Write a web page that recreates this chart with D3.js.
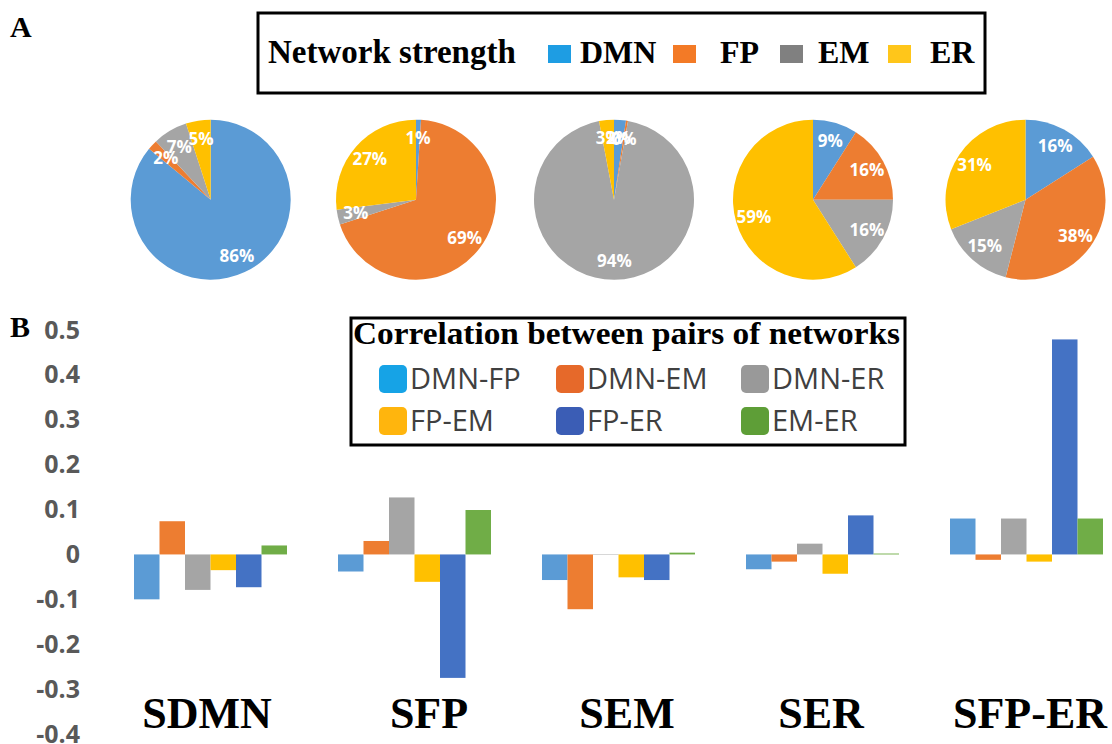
<!DOCTYPE html>
<html>
<head>
<meta charset="utf-8">
<script src="https://cdn.jsdelivr.net/npm/d3@7/dist/d3.min.js"></script>
<style>
  body { margin: 0; background: #fff; }
  svg { display: block; }
</style>
</head>
<body>
<svg id="fig" width="1112" height="744"></svg>
<script>
// ---- data ----
const groups = ["SDMN", "SFP", "SEM", "SER", "SFP-ER"];
const networks = ["DMN", "FP", "EM", "ER"];
const pairs = ["DMN-FP", "DMN-EM", "DMN-ER", "FP-EM", "FP-ER", "EM-ER"];

// network strength shares (%) per condition, order DMN, FP, EM, ER
const strengthSDMN  = [86, 2, 7, 5];
const strengthSFP   = [1, 69, 3, 27];
const strengthSEM   = [2.4, 0.4, 94.2, 3.0];
const strengthSER   = [9, 16, 16, 59];
const strengthSFPER = [16, 38, 15, 31];

// correlation between pairs of networks, order as in `pairs`
const corrSDMN  = [-0.100, 0.074, -0.079, -0.035, -0.073, 0.020];
const corrSFP   = [-0.038, 0.030, 0.127, -0.061, -0.275, 0.099];
const corrSEM   = [-0.057, -0.122, 0.001, -0.051, -0.057, 0.004];
const corrSER   = [-0.033, -0.016, 0.024, -0.043, 0.087, 0.002];
const corrSFPER = [0.080, -0.012, 0.080, -0.016, 0.479, 0.080];

const yTicks = [0.5, 0.4, 0.3, 0.2, 0.1, 0, -0.1, -0.2, -0.3, -0.4];

// ---- colours ----
const pieColors   = ["#5B9BD5", "#ED7D31", "#A5A5A5", "#FFC000"];
const keyAColors  = ["#1E9DE3", "#F37A26", "#808080", "#FFC61A"];
const barColors   = ["#5B9BD5", "#ED7D31", "#A5A5A5", "#FFC000", "#4472C4", "#70AD47"];
const keyBColors  = ["#16A3E6", "#E6692A", "#999999", "#FFB50D", "#3B5DB5", "#5E9E37"];

const strengths = [strengthSDMN, strengthSFP, strengthSEM, strengthSER, strengthSFPER];
const corrs = [corrSDMN, corrSFP, corrSEM, corrSER, corrSFPER];

const serif = "'Liberation Serif', 'Times New Roman', serif";
const sans = "'Open Sans', 'Noto Sans', sans-serif";

const svg = d3.select("#fig");

// ---- scales ----
const x0 = d3.scaleBand().domain(groups).range([108.5, 1128.5]).padding(0);
const x1 = d3.scaleBand().domain(pairs).range([0, x0.bandwidth()]).paddingInner(0).paddingOuter(1);
const y = d3.scaleLinear().domain([-0.4, 0.5]).range([734, 330]);
// pie row and condition captions are laid out independently of the bar groups
const pieX = d3.scaleOrdinal().domain(groups).range([210.7, 416, 614, 813, 1025.5]);
const captionX = d3.scaleOrdinal().domain(groups).range([207, 429, 627, 821, 1030]);

// ---- panel labels ----
svg.append("text").attr("x", 10).attr("y", 37).text("A")
  .style("font-family", serif).style("font-weight", "bold").style("font-size", "30px");
svg.append("text").attr("x", 10).attr("y", 337).text("B")
  .style("font-family", serif).style("font-weight", "bold").style("font-size", "30px");

// ---- legend A ----
const keyA = svg.append("g");
keyA.append("rect").attr("x", 258).attr("y", 13).attr("width", 727).attr("height", 80)
  .attr("fill", "#fff").attr("stroke", "#000").attr("stroke-width", 3);
keyA.append("text").attr("x", 268).attr("y", 63).text("Network strength")
  .style("font-family", serif).style("font-weight", "bold").style("font-size", "33px");
const keyASwatchX = [548, 673, 780, 888];
const keyATextX = [580, 720, 818, 930];
networks.forEach((n, i) => {
  keyA.append("rect").attr("x", keyASwatchX[i]).attr("y", 45).attr("width", 23).attr("height", 18)
    .attr("fill", keyAColors[i]);
  keyA.append("text").attr("x", keyATextX[i]).attr("y", 63).text(n)
    .style("font-family", serif).style("font-weight", "bold").style("font-size", "32px");
});

// ---- pies ----
const pieR = 80, pieCY = 199.7;
const pie = d3.pie().sort(null).value(d => d);
const arc = d3.arc().innerRadius(0).outerRadius(pieR);
const labelArc = d3.arc().innerRadius(pieR * 0.77).outerRadius(pieR * 0.77);

groups.forEach((g, gi) => {
  const pg = svg.append("g").attr("transform", `translate(${pieX(g)},${pieCY})`);
  const arcs = pie(strengths[gi]);
  pg.selectAll("path").data(arcs).join("path")
    .attr("d", arc).attr("fill", (d, i) => pieColors[i]);
  pg.selectAll("text").data(arcs).join("text")
    .attr("transform", d => `translate(${labelArc.centroid(d)})`)
    .attr("text-anchor", "middle").attr("dy", "0.36em")
    .text(d => Math.round(d.data) + "%")
    .style("font-family", sans).style("font-weight", "bold").style("font-size", "17px")
    .style("fill", "#fff");
});

// ---- y axis labels (no line, no ticks) ----
const fmt = d => d === 0 ? "0" : d3.format(".1f")(d).replace("\u2212", "-");
const yAxis = d3.axisLeft(y).tickValues(yTicks).tickFormat(fmt).tickSize(0).tickPadding(0);
const ya = svg.append("g").attr("transform", "translate(80,0)").call(yAxis);
ya.select(".domain").remove();
ya.selectAll("text")
  .style("font-family", sans).style("font-weight", "bold").style("font-size", "25px")
  .style("fill", "#595959");

// ---- bars ----
groups.forEach((g, gi) => {
  const bg = svg.append("g").attr("transform", `translate(${x0(g)},0)`);
  bg.selectAll("rect").data(corrs[gi]).join("rect")
    .attr("x", (d, i) => x1(pairs[i]))
    .attr("width", x1.bandwidth())
    .attr("y", d => y(Math.max(0, d)))
    .attr("height", d => Math.abs(y(d) - y(0)))
    .attr("fill", (d, i) => barColors[i]);
});

// ---- condition captions ----
svg.selectAll("text.cat").data(groups).join("text").attr("class", "cat")
  .attr("x", d => captionX(d)).attr("y", 728)
  .attr("text-anchor", "middle").text(d => d)
  .style("font-family", serif).style("font-weight", "bold").style("font-size", "44px");

// ---- legend B ----
const keyB = svg.append("g");
keyB.append("rect").attr("x", 351).attr("y", 318).attr("width", 554).attr("height", 127)
  .attr("fill", "#fff").attr("stroke", "#000").attr("stroke-width", 3);
keyB.append("text").attr("x", 353).attr("y", 344)
  .attr("textLength", 547).attr("lengthAdjust", "spacingAndGlyphs")
  .text("Correlation between pairs of networks")
  .style("font-family", serif).style("font-weight", "bold").style("font-size", "32px");
const keyBColX = [379, 556, 741];
const keyBRowY = [365, 407];
pairs.forEach((p, i) => {
  const cx = keyBColX[i % 3], ry = keyBRowY[Math.floor(i / 3)];
  keyB.append("rect").attr("x", cx).attr("y", ry).attr("width", 28).attr("height", 28)
    .attr("rx", 5).attr("fill", keyBColors[i]);
  keyB.append("text").attr("x", cx + 31).attr("y", ry + 24).text(p)
    .style("font-family", sans).style("font-size", "29px").style("fill", "#404040");
});
</script>
</body>
</html>
